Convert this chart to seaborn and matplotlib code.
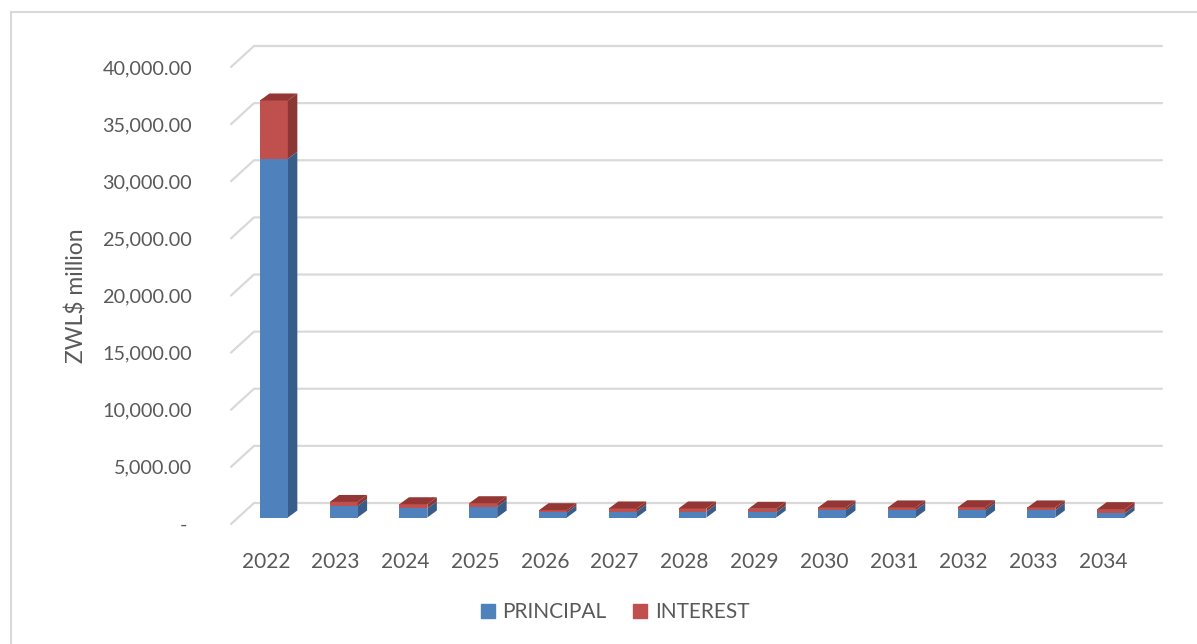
import pandas as pd
import matplotlib.pyplot as plt
import seaborn as sns
from matplotlib.patches import Polygon, Rectangle
from matplotlib.lines import Line2D
from matplotlib.transforms import Affine2D, IdentityTransform

# Data (ZWL$ million)
years = ['2022', '2023', '2024', '2025', '2026', '2027', '2028',
         '2029', '2030', '2031', '2032', '2033', '2034']
principal = [31400, 1010, 790, 930, 440, 520, 520, 440, 640, 640, 640, 640, 380]
interest = [5100, 350, 370, 320, 200, 270, 270, 320, 240, 240, 260, 240, 350]
y_ticks = [0, 5000, 10000, 15000, 20000, 25000, 30000, 35000, 40000]

df = pd.DataFrame({'year': years, 'principal': principal, 'interest': interest})
df['total'] = df['principal'] + df['interest']

blue, blue_side = '#4F81BD', '#385D8A'
red, red_side, red_top = '#C0504D', '#8A3735', '#943634'
grid_c = '#D9D9D9'
text_c = '#595959'

sns.set_style('white')
plt.rcParams['font.family'] = ['Lato', 'DejaVu Sans']

W, H = 1197, 644
fig = plt.figure(figsize=(W / 100, H / 100), dpi=100)
ax = fig.add_axes([231 / W, (H - 524) / H, (1138 - 231) / W, (524 - 67) / H])

# stacked bars: totals in red, principal over it in blue
sns.barplot(data=df, x='year', y='total', color=red, width=0.4, saturation=1, ax=ax)
n_red = len(ax.patches)
sns.barplot(data=df, x='year', y='principal', color=blue, width=0.4, saturation=1, ax=ax)

ax.set_xlim(-0.5, len(years) - 0.5)
ax.set_ylim(0, 40000)
for s in ax.spines.values():
    s.set_visible(False)

# pseudo 3D: front faces sit a bit deeper than the axis plane
shift = Affine2D().translate(8, 6.5)
depth = (9.5, 7)
wall = (23, 21)

fig.canvas.draw()
tr = ax.transData

# back wall + side wall gridlines
for v in y_ticks:
    x0, y0 = tr.transform((-0.5, v))
    xs = [x0, x0 + wall[0], 1162]
    ys = [y0, y0 + wall[1], y0 + wall[1]]
    ax.add_line(Line2D(xs, ys, transform=IdentityTransform(), color=grid_c,
                       lw=1.6, zorder=0, clip_on=False))

reds = ax.patches[:n_red]
blues = ax.patches[n_red:]
for i, (pr, pb) in enumerate(zip(reds, blues)):
    for p in (pr, pb):
        p.set_transform(tr + shift)
        p.set_zorder(2 + i)
        p.set_edgecolor('none')
        p.set_clip_on(False)
    full = tr + shift
    for p, side_c in ((pb, blue_side), (pr, red_side)):
        x, w = p.get_x(), p.get_width()
        yb, yt = p.get_y(), p.get_y() + p.get_height()
        if p is pr:
            yb = pb.get_height()
        (ax_r, ay_b), (_, ay_t) = full.transform([(x + w, yb), (x + w, yt)])
        side = [(ax_r, ay_b), (ax_r, ay_t), (ax_r + depth[0], ay_t + depth[1]),
                (ax_r + depth[0], ay_b + depth[1])]
        ax.add_patch(Polygon(side, closed=True, transform=IdentityTransform(),
                             facecolor=side_c, edgecolor='none', zorder=2 + i, clip_on=False))
    x, w, yt = pr.get_x(), pr.get_width(), pr.get_height()
    (lx, ty), (rx, _) = full.transform([(x, yt), (x + w, yt)])
    top = [(lx, ty), (rx, ty), (rx + depth[0], ty + depth[1]), (lx + depth[0], ty + depth[1])]
    ax.add_patch(Polygon(top, closed=True, transform=IdentityTransform(),
                         facecolor=red_top, edgecolor='none', zorder=2 + i, clip_on=False))
# blue segment in front of red side of same bar
for i, pb in enumerate(blues):
    pb.set_zorder(2.5 + i)

# axis labels
ax.set_yticks(y_ticks)
ax.set_yticklabels(['- '] + [f'{v:,.2f}' for v in y_ticks[1:]])
ax.tick_params(axis='y', length=0, pad=28, labelsize=14.3, labelcolor=text_c)
ax.tick_params(axis='x', length=0, pad=20, labelsize=15, labelcolor=text_c)
ax.set_xlabel('')
ax.set_ylabel('ZWL$ million', fontsize=16.5, color=text_c)
ax.yaxis.set_label_coords((87 - 231) / (1138 - 231), 0.5)

# legend
handles = [Rectangle((0, 0), 1, 1, color=blue), Rectangle((0, 0), 1, 1, color=red)]
fig.legend(handles, ['PRINCIPAL', 'INTEREST'], loc='center', ncol=2,
           bbox_to_anchor=(615 / W, 1 - 612 / H), frameon=False, fontsize=15,
           labelcolor=text_c, handlelength=0.67, handleheight=0.67,
           handletextpad=0.35, columnspacing=1.3)

# chart border
fig.add_artist(Rectangle((11 / W, -0.05), 1.2, 1.05 - 12 / H, transform=fig.transFigure,
                         fill=False, edgecolor=grid_c, lw=1.5))

fig.savefig('out.png', dpi=100)
